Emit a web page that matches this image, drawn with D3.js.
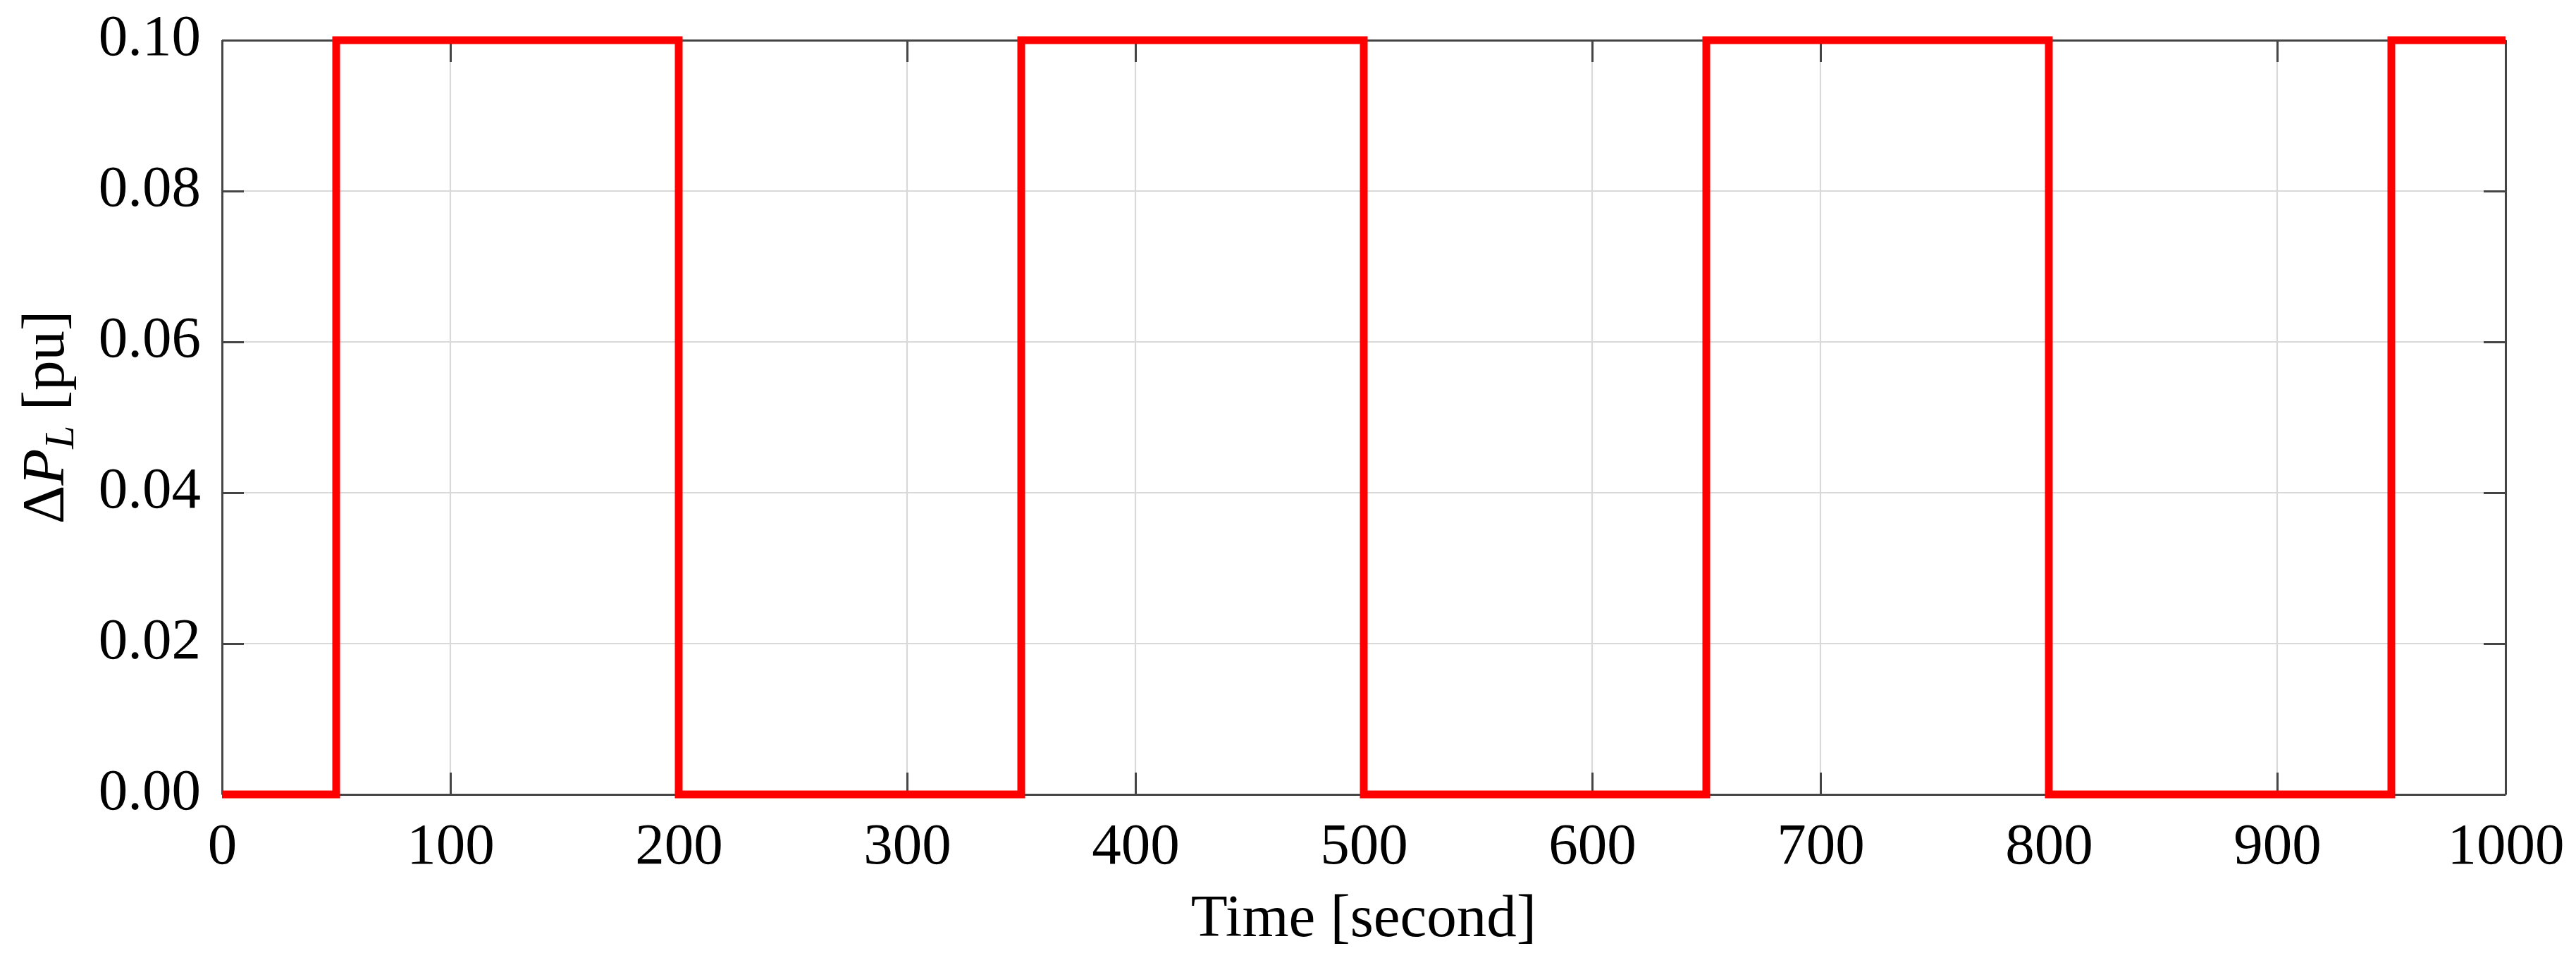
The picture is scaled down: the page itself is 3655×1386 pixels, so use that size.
<!DOCTYPE html>
<html>
<head>
<meta charset="utf-8">
<script src="https://cdn.jsdelivr.net/npm/d3@7"></script>
<style>
  html, body { margin: 0; padding: 0; background: #ffffff; }
  svg { display: block; }
  text { font-family: "Liberation Serif", "Times New Roman", serif; fill: #000; }
</style>
</head>
<body>
<svg id="chart" width="3655" height="1386"></svg>
<script>
// ---- data ----
const stepTimes  = [0, 50, 200, 350, 500, 650, 800, 950, 1000];
const stepValues = [0, 0.1, 0, 0.1, 0, 0.1, 0, 0.1, 0.1];
const xTicks = [0, 100, 200, 300, 400, 500, 600, 700, 800, 900, 1000];
const yTicks = [0, 0.02, 0.04, 0.06, 0.08, 0.10];
const xTitle = "Time [second]";

// ---- layout ----
const W = 3655, H = 1386;
const m = { left: 315, right: W - 3555, top: 57, bottom: H - 1127 };
const iw = W - m.left - m.right, ih = H - m.top - m.bottom;
const svg = d3.select("#chart");
svg.append("rect").attr("width", W).attr("height", H).attr("fill", "#fff");

const x = d3.scaleLinear().domain([0, 1000]).range([m.left, m.left + iw]);
const y = d3.scaleLinear().domain([0, 0.1]).range([m.top + ih, m.top]);

const fs = 83;
const tickLen = 31;
const axisColor = "#454545";

// grid
const grid = svg.append("g");
grid.selectAll(".gx").data(xTicks.slice(1, -1)).join("line")
  .attr("x1", d => x(d)).attr("x2", d => x(d))
  .attr("y1", m.top).attr("y2", m.top + ih)
  .attr("stroke", "#d9d9d9").attr("stroke-width", 2.2);
grid.selectAll(".gy").data(yTicks.slice(1, -1)).join("line")
  .attr("y1", d => y(d)).attr("y2", d => y(d))
  .attr("x1", m.left).attr("x2", m.left + iw)
  .attr("stroke", "#d9d9d9").attr("stroke-width", 2.2);

// axes (box with inward ticks on all sides)
function styleAxis(g) {
  g.select(".domain").attr("stroke", axisColor).attr("stroke-width", 3);
  g.selectAll(".tick line").attr("stroke", axisColor).attr("stroke-width", 3);
}
const xb = svg.append("g").attr("transform", `translate(0,${m.top + ih})`)
  .call(d3.axisBottom(x).tickValues(xTicks).tickSizeInner(-tickLen).tickSizeOuter(0).tickPadding(0).tickFormat(d3.format("d")));
styleAxis(xb);
xb.selectAll(".tick text").attr("font-size", fs).attr("dy", null).attr("y", 98)
  .attr("font-family", "Liberation Serif, serif").attr("fill", "#000");

const xt = svg.append("g").attr("transform", `translate(0,${m.top})`)
  .call(d3.axisTop(x).tickValues(xTicks).tickSizeInner(-tickLen).tickSizeOuter(0).tickFormat(""));
styleAxis(xt);

const yl = svg.append("g").attr("transform", `translate(${m.left},0)`)
  .call(d3.axisLeft(y).tickValues(yTicks).tickSizeInner(-tickLen).tickSizeOuter(0).tickPadding(0).tickFormat(d3.format(".2f")));
styleAxis(yl);
yl.selectAll(".tick text").attr("font-size", fs).attr("dy", null).attr("x", -30).attr("y", 20)
  .attr("text-anchor", "end").attr("font-family", "Liberation Serif, serif").attr("fill", "#000");

const yr = svg.append("g").attr("transform", `translate(${m.left + iw},0)`)
  .call(d3.axisRight(y).tickValues(yTicks).tickSizeInner(-tickLen).tickSizeOuter(0).tickFormat(""));
styleAxis(yr);

// series
const pts = stepTimes.map((t, i) => [t, stepValues[i]]);
const line = d3.line().x(d => x(d[0])).y(d => y(d[1])).curve(d3.curveStepAfter);
svg.append("path").datum(pts)
  .attr("d", line)
  .attr("fill", "none").attr("stroke", "#ff0000").attr("stroke-width", 11)
  .attr("stroke-linejoin", "miter").attr("stroke-linecap", "butt");

// x title
svg.append("text").attr("x", m.left + iw / 2).attr("y", 1328)
  .attr("text-anchor", "middle").attr("font-size", fs + 2).text(xTitle);

// y title
const yt = svg.append("text")
  .attr("transform", `translate(90,${m.top + ih / 2}) rotate(-90)`)
  .attr("text-anchor", "middle").attr("font-size", fs + 2);
yt.append("tspan").text("\u0394");
yt.append("tspan").attr("font-style", "italic").text("P");
yt.append("tspan").attr("font-style", "italic").attr("font-size", (fs + 2) * 0.7).attr("dy", 14).text("L");
yt.append("tspan").attr("dy", -14).text(" [pu]");
</script>
</body>
</html>
